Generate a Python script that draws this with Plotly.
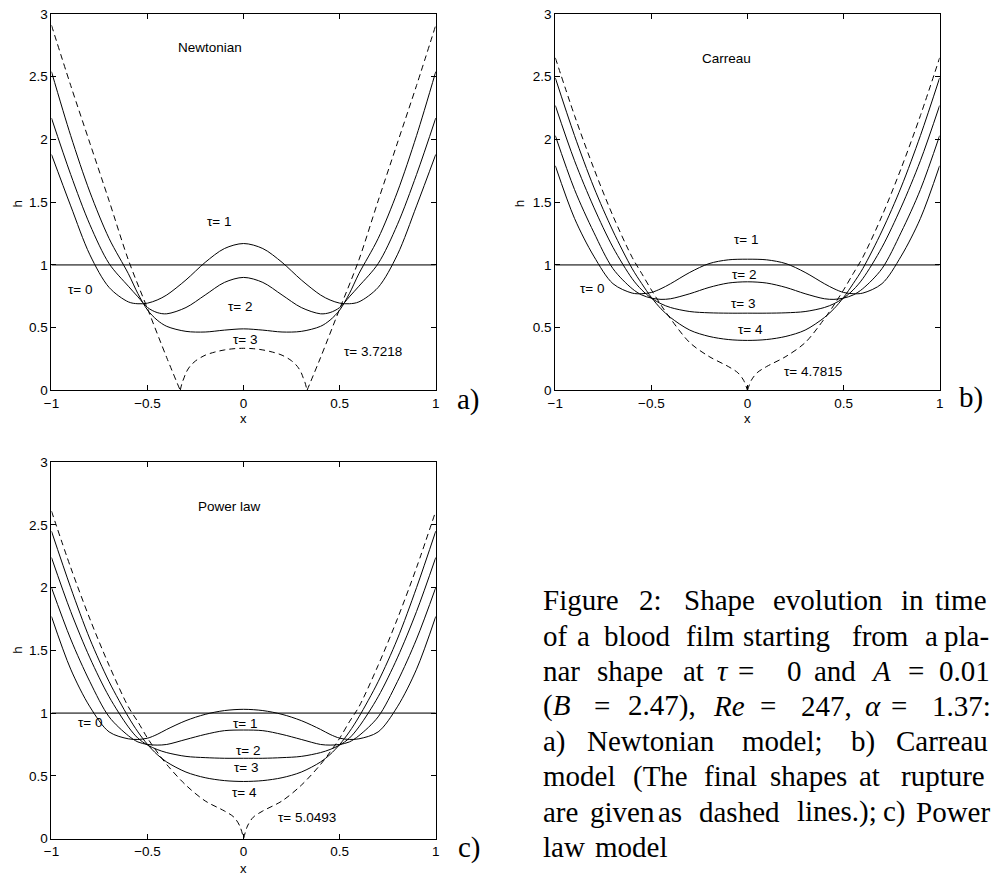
import plotly.graph_objects as go

W, H = 995, 880

# ---------------- data ----------------
X_GRID = [-1.0, -0.9, -0.8, -0.7, -0.6, -0.55, -0.5, -0.45, -0.4, -0.3, -0.2, -0.1, 0.0,
          0.1, 0.2, 0.3, 0.4, 0.45, 0.5, 0.55, 0.6, 0.7, 0.8, 0.9, 1.0]
X_FLAT = [-1.0, 1.0]
H_TAU0 = [1.0, 1.0]

X_TICKS = [-1, -0.5, 0, 0.5, 1]
X_TICK_LABELS = ["\u22121", "\u22120.5", "0", "0.5", "1"]
Y_TICKS = [0, 0.5, 1, 1.5, 2, 2.5, 3]
Y_TICK_LABELS = ["0", "0.5", "1", "1.5", "2", "2.5", "3"]

# a) Newtonian
NEWT_TAU1 = [1.88, 1.47, 1.08, 0.82, 0.705, 0.69, 0.695, 0.72, 0.76, 0.88, 1.02, 1.13, 1.17,
             1.13, 1.02, 0.88, 0.76, 0.72, 0.695, 0.69, 0.705, 0.82, 1.08, 1.47, 1.88]
NEWT_TAU2 = [2.17, 1.72, 1.32, 1.01, 0.83, 0.745, 0.66, 0.62, 0.61, 0.66, 0.76, 0.86, 0.90,
             0.86, 0.76, 0.66, 0.61, 0.62, 0.66, 0.745, 0.83, 1.01, 1.32, 1.72, 2.17]
NEWT_TAU3 = [2.54, 2.03, 1.58, 1.21, 0.93, 0.77, 0.64, 0.56, 0.51, 0.47, 0.465, 0.48, 0.49,
             0.48, 0.465, 0.47, 0.51, 0.56, 0.64, 0.77, 0.93, 1.21, 1.58, 2.03, 2.54]
NEWT_RUPT_L_X = [-1.0, -0.9, -0.8, -0.7, -0.6, -0.5, -0.4, -0.33]
NEWT_RUPT_L_H = [2.91, 2.43, 1.97, 1.51, 1.04, 0.65, 0.26, 0.0]
NEWT_RUPT_M_X = [-0.33, -0.32, -0.31, -0.3, -0.28, -0.25, -0.2, -0.15, -0.1, -0.05, 0.0,
                 0.05, 0.1, 0.15, 0.2, 0.25, 0.28, 0.3, 0.31, 0.32, 0.33]
NEWT_RUPT_M_H = [0.0, 0.06, 0.10, 0.14, 0.19, 0.235, 0.28, 0.305, 0.322, 0.332, 0.335,
                 0.332, 0.322, 0.305, 0.28, 0.235, 0.19, 0.14, 0.10, 0.06, 0.0]
NEWT_RUPT_R_X = [0.33, 0.4, 0.5, 0.6, 0.7, 0.8, 0.9, 1.0]
NEWT_RUPT_R_H = [0.0, 0.26, 0.65, 1.04, 1.51, 1.97, 2.43, 2.91]

# b) Carreau
CARR_TAU1 = [1.79, 1.37, 1.07, 0.85, 0.775, 0.77, 0.78, 0.81, 0.85, 0.94, 1.01, 1.04, 1.045,
             1.04, 1.01, 0.94, 0.85, 0.81, 0.78, 0.77, 0.775, 0.85, 1.07, 1.37, 1.79]
CARR_TAU2 = [2.03, 1.60, 1.26, 0.97, 0.81, 0.76, 0.735, 0.725, 0.73, 0.77, 0.82, 0.855, 0.865,
             0.855, 0.82, 0.77, 0.73, 0.725, 0.735, 0.76, 0.81, 0.97, 1.26, 1.60, 2.03]
CARR_TAU3 = [2.27, 1.83, 1.46, 1.14, 0.89, 0.80, 0.735, 0.69, 0.66, 0.628, 0.618, 0.615, 0.615,
             0.615, 0.618, 0.628, 0.66, 0.69, 0.735, 0.80, 0.89, 1.14, 1.46, 1.83, 2.27]
CARR_TAU4 = [2.49, 2.03, 1.62, 1.27, 0.97, 0.85, 0.74, 0.65, 0.58, 0.48, 0.43, 0.405, 0.398,
             0.405, 0.43, 0.48, 0.58, 0.65, 0.74, 0.85, 0.97, 1.27, 1.62, 2.03, 2.49]
CARR_RUPT_L_X = [-1.0, -0.9, -0.8, -0.7, -0.6, -0.55, -0.5, -0.45, -0.4, -0.3, -0.2, -0.1, -0.05, -0.02, 0.0]
CARR_RUPT_L_H = [2.65, 2.19, 1.77, 1.39, 1.06, 0.93, 0.80, 0.68, 0.57, 0.38, 0.27, 0.19, 0.14, 0.08, 0.0]
CARR_RUPT_R_X = [0.0, 0.02, 0.05, 0.1, 0.2, 0.3, 0.4, 0.45, 0.5, 0.55, 0.6, 0.7, 0.8, 0.9, 1.0]
CARR_RUPT_R_H = [0.0, 0.08, 0.14, 0.19, 0.27, 0.38, 0.57, 0.68, 0.80, 0.93, 1.06, 1.39, 1.77, 2.19, 2.65]

# c) Power law
POW_TAU1 = [1.77, 1.35, 1.05, 0.85, 0.795, 0.79, 0.80, 0.83, 0.87, 0.94, 0.99, 1.02, 1.03,
            1.02, 0.99, 0.94, 0.87, 0.83, 0.80, 0.79, 0.795, 0.85, 1.05, 1.35, 1.77]
POW_TAU2 = [2.00, 1.59, 1.25, 0.97, 0.82, 0.77, 0.75, 0.745, 0.75, 0.79, 0.83, 0.86, 0.865,
            0.86, 0.83, 0.79, 0.75, 0.745, 0.75, 0.77, 0.82, 0.97, 1.25, 1.59, 2.00]
POW_TAU3 = [2.24, 1.81, 1.44, 1.13, 0.89, 0.80, 0.745, 0.71, 0.685, 0.655, 0.645, 0.64, 0.64,
            0.64, 0.645, 0.655, 0.685, 0.71, 0.745, 0.80, 0.89, 1.13, 1.44, 1.81, 2.24]
POW_TAU4 = [2.45, 2.00, 1.59, 1.25, 0.97, 0.85, 0.75, 0.67, 0.61, 0.53, 0.485, 0.462, 0.455,
            0.462, 0.485, 0.53, 0.61, 0.67, 0.75, 0.85, 0.97, 1.25, 1.59, 2.00, 2.45]
POW_RUPT_L_X = [-1.0, -0.9, -0.8, -0.7, -0.6, -0.55, -0.5, -0.45, -0.4, -0.3, -0.2, -0.1, -0.05, -0.02, 0.0]
POW_RUPT_L_H = [2.61, 2.16, 1.75, 1.38, 1.05, 0.93, 0.80, 0.69, 0.59, 0.425, 0.30, 0.22, 0.17, 0.10, 0.0]
POW_RUPT_R_X = [0.0, 0.02, 0.05, 0.1, 0.2, 0.3, 0.4, 0.45, 0.5, 0.55, 0.6, 0.7, 0.8, 0.9, 1.0]
POW_RUPT_R_H = [0.0, 0.10, 0.17, 0.22, 0.30, 0.425, 0.59, 0.69, 0.80, 0.93, 1.05, 1.38, 1.75, 2.16, 2.61]

# ---------------- styling / layout ----------------
SANS = "Liberation Sans, Arial, Helvetica, sans-serif"
SERIF = "Liberation Serif, Times New Roman, serif"
FS = 13.5
CAP_FS = 29

fig = go.Figure()


def add_curve(x, y, xa, ya, dashed=False, color="black", width=1.0):
    fig.add_trace(go.Scatter(
        x=x, y=y, xaxis=xa, yaxis=ya, mode="lines",
        line=dict(color=color, width=width, shape="spline", smoothing=0.9,
                  dash="6px,4px" if dashed else "solid"),
        hoverinfo="skip", showlegend=False))


panels = [
    ("x", "y", [NEWT_TAU1, NEWT_TAU2, NEWT_TAU3],
     [(NEWT_RUPT_L_X, NEWT_RUPT_L_H), (NEWT_RUPT_M_X, NEWT_RUPT_M_H), (NEWT_RUPT_R_X, NEWT_RUPT_R_H)]),
    ("x2", "y2", [CARR_TAU1, CARR_TAU2, CARR_TAU3, CARR_TAU4],
     [(CARR_RUPT_L_X, CARR_RUPT_L_H), (CARR_RUPT_R_X, CARR_RUPT_R_H)]),
    ("x3", "y3", [POW_TAU1, POW_TAU2, POW_TAU3, POW_TAU4],
     [(POW_RUPT_L_X, POW_RUPT_L_H), (POW_RUPT_R_X, POW_RUPT_R_H)]),
]
for xa, ya, solids, rupt in panels:
    add_curve(X_FLAT, H_TAU0, xa, ya, color="#666666", width=1.6)
    for h in solids:
        add_curve(X_GRID, h, xa, ya)
    for rx, rh in rupt:
        add_curve(rx, rh, xa, ya, dashed=True)

# axes boxes in pixels (left, right, top, bottom)
BOXES = {
    "1": (44, 433, 7, 390),
    "2": (554, 943, 7, 390),
    "3": (44, 433, 463, 846),
}


def px(x):
    return x / W


def py(y):
    return 1 - y / H


axis_common = dict(showgrid=False, zeroline=False, showline=True, linecolor="black",
                   linewidth=1, mirror="ticks", ticks="inside", ticklen=5, tickwidth=1,
                   tickcolor="black", tickfont=dict(family=SANS, size=FS, color="black"),
                   fixedrange=True)
layout_axes = {}
for k, (l, r, t, b) in BOXES.items():
    suf = "" if k == "1" else k
    layout_axes["xaxis" + suf] = dict(axis_common, domain=[px(l), px(r)], anchor="y" + suf,
                                      range=[-1, 1], tickmode="array", tickvals=X_TICKS,
                                      ticktext=X_TICK_LABELS)
    layout_axes["yaxis" + suf] = dict(axis_common, domain=[py(b), py(t)], anchor="x" + suf,
                                      range=[0, 3], tickmode="array", tickvals=Y_TICKS,
                                      ticktext=Y_TICK_LABELS)

annotations = []


def data_text(text, x, y, xa, ya):
    annotations.append(dict(text=text, x=x, y=y, xref=xa, yref=ya, showarrow=False,
                            xanchor="center", yanchor="middle",
                            font=dict(family=SANS, size=FS, color="black")))


# panel a labels
data_text("Newtonian", -0.177, 2.73, "x", "y")
data_text("\u03c4= 1", -0.13, 1.345, "x", "y")
data_text("\u03c4= 0", -0.853, 0.80, "x", "y")
data_text("\u03c4= 2", -0.021, 0.666, "x", "y")
data_text("\u03c4= 3", 0.008, 0.405, "x", "y")
data_text("\u03c4= 3.7218", 0.674, 0.31, "x", "y")
# panel b labels
data_text("Carreau", -0.108, 2.645, "x2", "y2")
data_text("\u03c4= 1", -0.008, 1.206, "x2", "y2")
data_text("\u03c4= 2", -0.018, 0.927, "x2", "y2")
data_text("\u03c4= 3", -0.021, 0.692, "x2", "y2")
data_text("\u03c4= 4", 0.014, 0.488, "x2", "y2")
data_text("\u03c4= 0", -0.811, 0.815, "x2", "y2")
data_text("\u03c4= 4.7815", 0.342, 0.151, "x2", "y2")
# panel c labels
data_text("Power law", -0.071, 2.645, "x3", "y3")
data_text("\u03c4= 0", -0.802, 0.922, "x3", "y3")
data_text("\u03c4= 1", 0.005, 0.914, "x3", "y3")
data_text("\u03c4= 2", 0.023, 0.705, "x3", "y3")
data_text("\u03c4= 3", 0.013, 0.564, "x3", "y3")
data_text("\u03c4= 4", 0.003, 0.366, "x3", "y3")
data_text("\u03c4= 5.0493", 0.332, 0.164, "x3", "y3")


def paper_text(text, x, y, size=FS, family=SANS, xanchor="center", yanchor="middle", angle=0):
    annotations.append(dict(text=text, x=px(x), y=py(y), xref="paper", yref="paper",
                            showarrow=False, xanchor=xanchor, yanchor=yanchor,
                            textangle=angle, borderpad=0,
                            font=dict(family=family, size=size, color="black")))


# axis titles
paper_text("x", 238, 419, size=13)
paper_text("x", 749, 419, size=13)
paper_text("x", 238, 876, size=13)
paper_text("h", 10, 200, angle=-90)
paper_text("h", 518, 200, angle=-90)
paper_text("h", 10, 654, angle=-90)

# panel letters (serif, caption size)
paper_text("a)", 453, 399, size=CAP_FS, family=SERIF, xanchor="left")
paper_text("b)", 962, 397, size=CAP_FS, family=SERIF, xanchor="left")
paper_text("c)", 454, 855, size=CAP_FS, family=SERIF, xanchor="left")

# caption, word by word (justified in the original)
CAPTION_LINES = [
    [("Figure", 541), ("2:", 638), ("Shape", 683), ("evolution", 773), ("in", 903), ("time", 937)],
    [("of", 541), ("a", 575), ("blood", 602), ("film", 685), ("starting", 743), ("from", 853),
     ("a", 927), ("pla-", 946)],
    [("nar", 541), ("shape", 595), ("at", 682), ("<i>\u03c4</i>", 717), ("=", 738), ("0", 787),
     ("and", 815), ("<i>A</i>", 873), ("=", 910), ("0.01", 941)],
    [("(<i>B</i>", 541), ("=", 592), ("2.47),", 627), ("<i>Re</i>", 713), ("=", 760), ("247,", 802),
     ("<i>\u03b1</i>", 866), ("=", 893), ("1.37:", 934)],
    [("a)", 541), ("Newtonian", 585), ("model;", 742), ("b)", 852), ("Carreau", 898)],
    [("model", 541), ("(The", 632), ("final", 703), ("shapes", 770), ("at", 860), ("rupture", 903)],
    [("are", 541), ("given", 588), ("as", 657), ("dashed", 698), ("lines.);", 798), ("c)", 885),
     ("Power", 918)],
    [("law", 541), ("model", 593)],
]
BASE0, LEAD = 612.7, 35.8
for i, words in enumerate(CAPTION_LINES):
    yc = BASE0 + LEAD * i - 9
    for w, xw in words:
        paper_text(w, xw, yc, size=CAP_FS, family=SERIF, xanchor="left")

fig.update_layout(
    width=W, height=H, autosize=False,
    margin=dict(l=0, r=0, t=0, b=0, pad=0),
    paper_bgcolor="white", plot_bgcolor="white",
    showlegend=False, annotations=annotations,
    **layout_axes,
)

fig.write_html("out.html", config={"displayModeBar": False},
               post_script="document.body.style.margin='0px';")
